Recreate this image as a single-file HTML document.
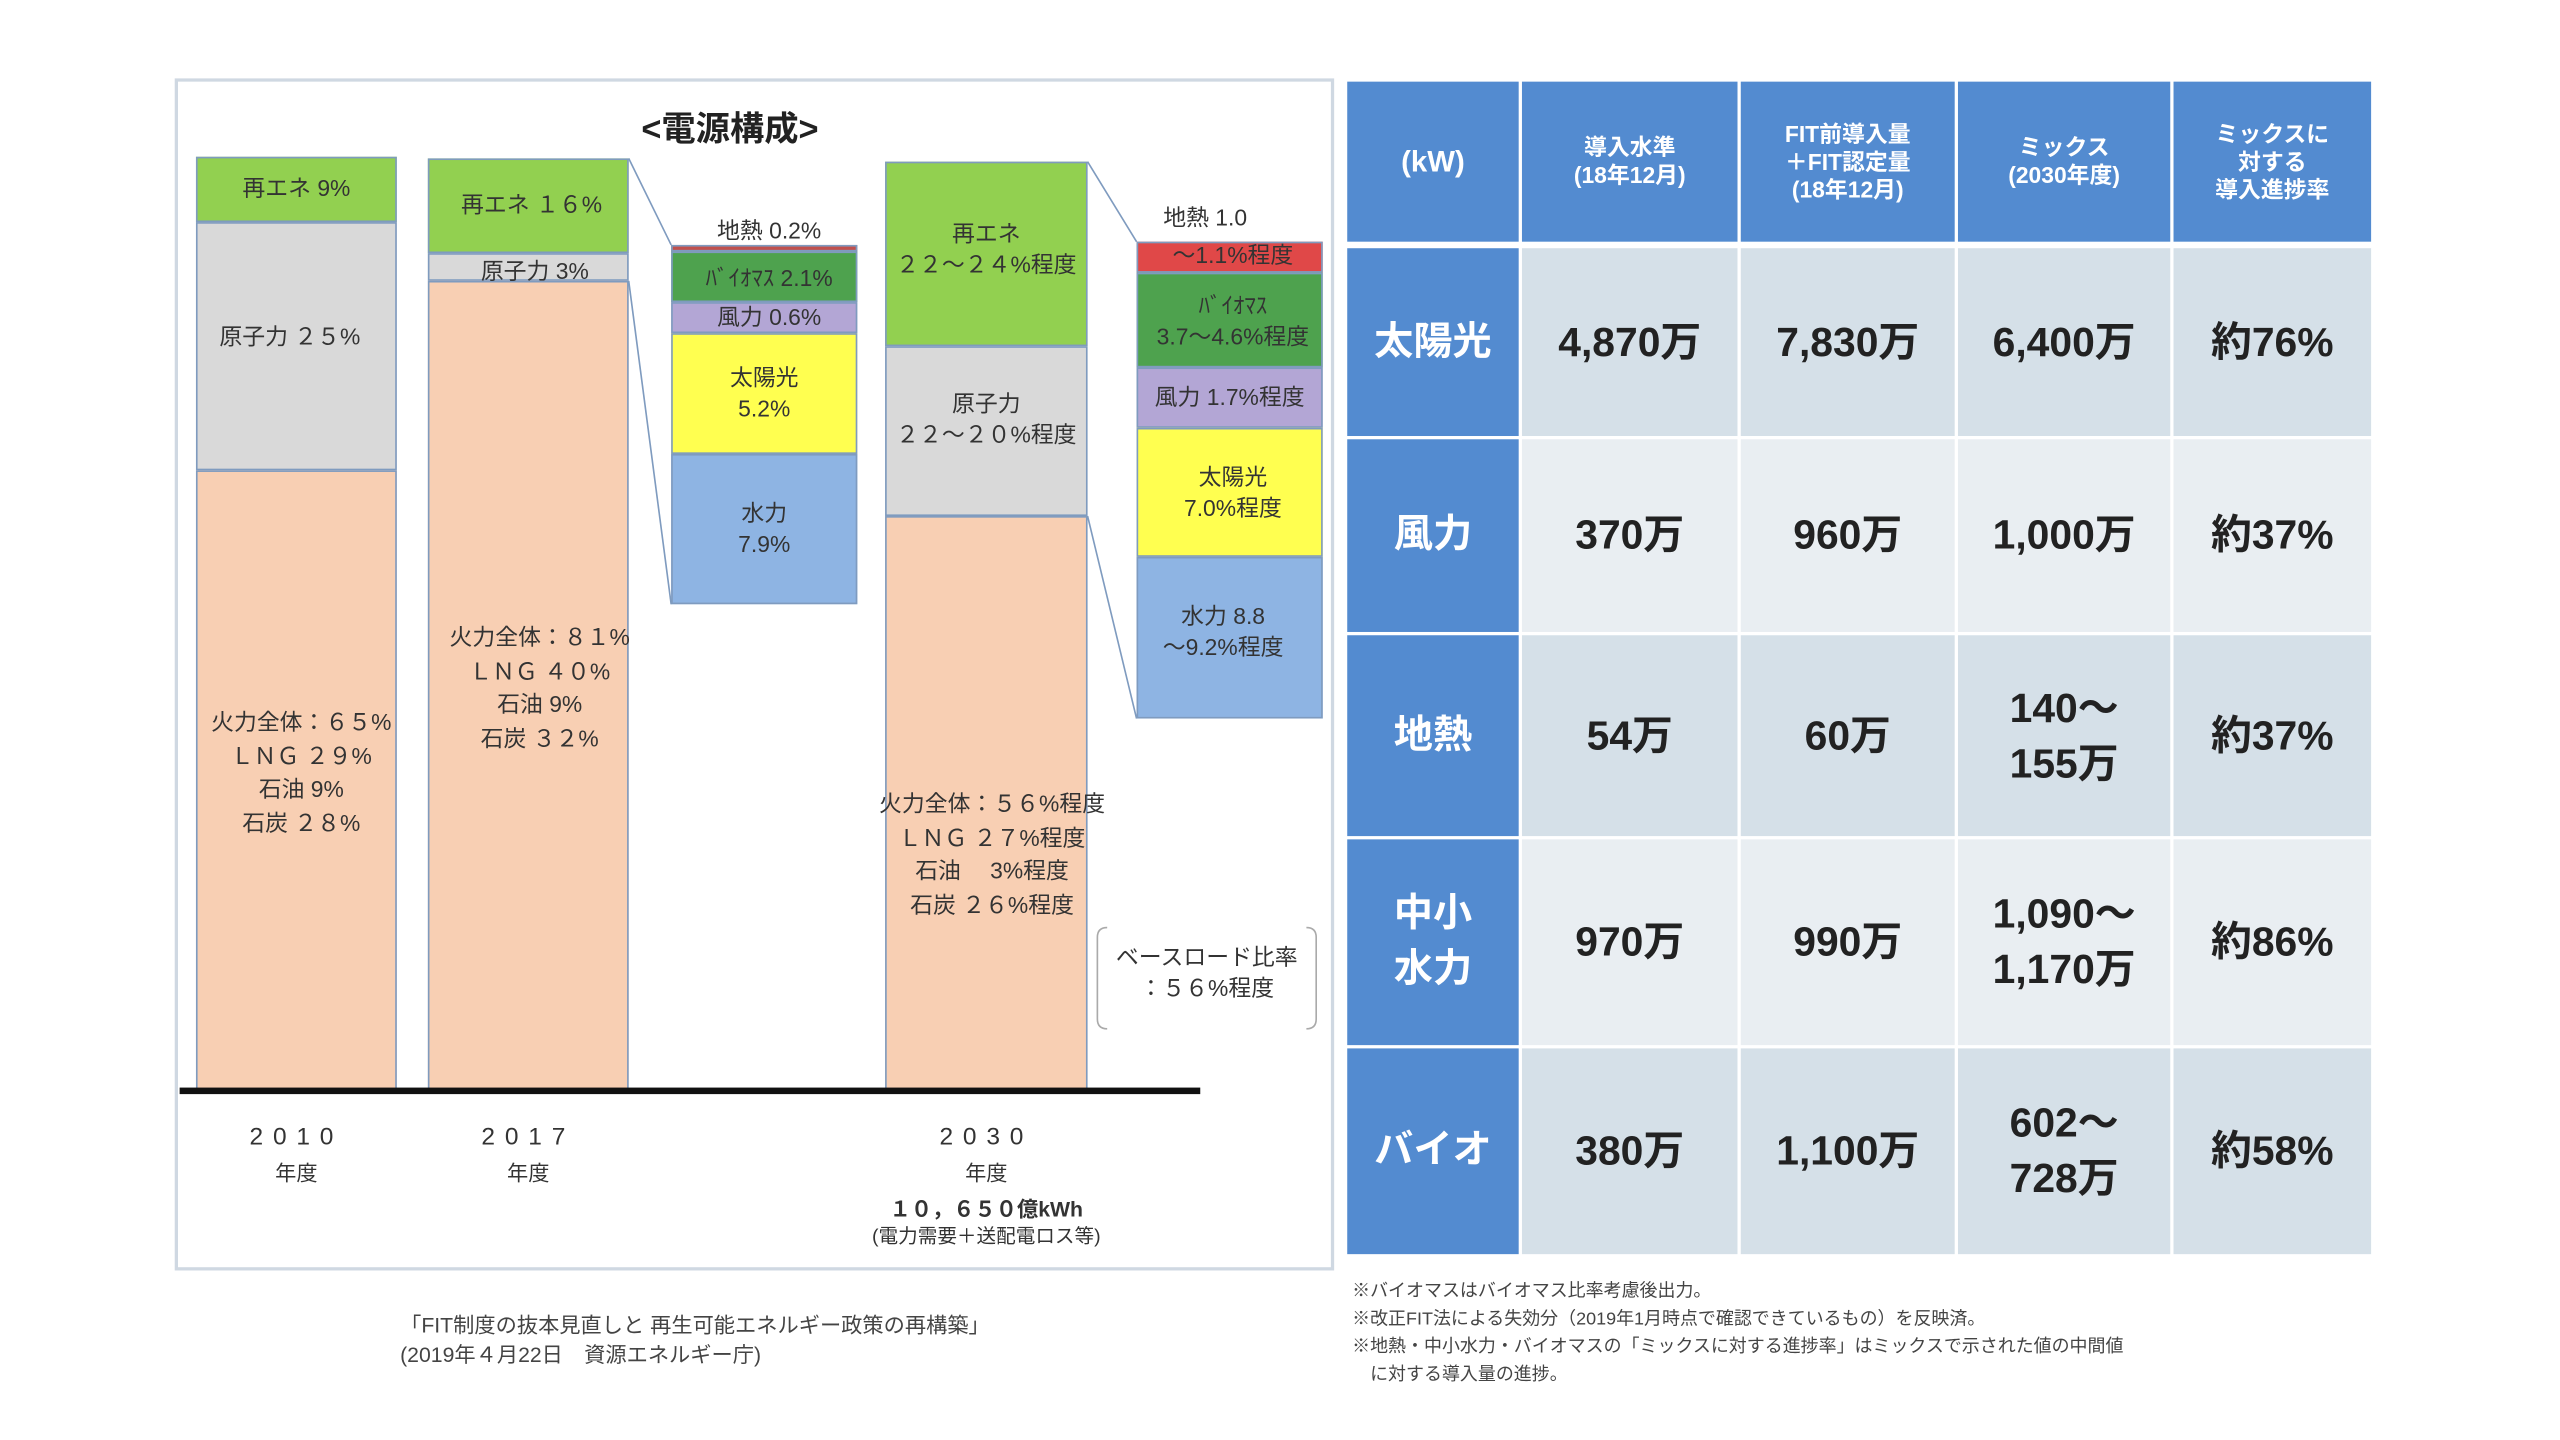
<!DOCTYPE html>
<html><head><meta charset="utf-8"><style>
html,body{margin:0;padding:0;background:#fff;overflow:hidden}
#w{position:absolute;left:0;top:0;width:1570px;height:882px;transform:scale(1.633,1.633);transform-origin:0 0;font-family:"Liberation Sans","Noto Sans CJK JP",sans-serif;color:#222}
.a{position:absolute}
.r{position:absolute;box-sizing:border-box;border:1px solid #7f9bbf}
.t{position:absolute;text-align:center;white-space:nowrap;font-size:14px;line-height:19px;color:#333}
.c{position:absolute;display:flex;align-items:center;justify-content:center;text-align:center;font-weight:bold;box-sizing:border-box}
.h{background:#538bd0;color:#fff}
.d1{background:#d5e0e8;color:#222;font-size:25px;line-height:34px}
.d2{background:#e9eef2;color:#222;font-size:25px;line-height:34px}
.hd{font-size:14px;line-height:17px}
.rl{font-size:24px;line-height:34px}
</style></head><body><div id="w">
<div class="a" style="left:107px;top:48px;width:710px;height:730px;border:2px solid #cfd8e2;box-sizing:border-box"></div>
<div class="t" style="left:347px;top:66px;width:200px;font-size:21px;font-weight:bold;line-height:28px;color:#222">&lt;電源構成&gt;</div>
<!-- 2010 -->
<div class="r" style="left:120px;top:96px;width:123px;height:40px;background:#92d050"></div>
<div class="r" style="left:120px;top:136px;width:123px;height:152px;background:#d9d9d9"></div>
<div class="r" style="left:120px;top:288px;width:123px;height:380px;background:#f8cfb3"></div>
<div class="t" style="left:120px;top:106px;width:123px">再エネ 9%</div>
<div class="t" style="left:116px;top:197px;width:123px">原子力 ２５%</div>
<div class="t" style="left:112px;top:432px;width:145px;line-height:20.5px">火力全体：６５%<br>ＬＮＧ ２９%<br>石油 9%<br>石炭 ２８%</div>
<!-- 2017 -->
<div class="r" style="left:262px;top:97px;width:123px;height:58px;background:#92d050"></div>
<div class="r" style="left:262px;top:155px;width:123px;height:17px;background:#d9d9d9"></div>
<div class="r" style="left:262px;top:172px;width:123px;height:496px;background:#f8cfb3"></div>
<div class="t" style="left:264px;top:116px;width:123px">再エネ １６%</div>
<div class="t" style="left:266px;top:158px;width:123px;line-height:16px">原子力 3%</div>
<div class="t" style="left:258px;top:380px;width:145px;line-height:20.5px">火力全体：８１%<br>ＬＮＧ ４０%<br>石油 9%<br>石炭 ３２%</div>
<!-- 2017 detail -->
<div class="r" style="left:411px;top:150px;width:114px;height:4px;background:#c0504d"></div>
<div class="r" style="left:411px;top:154px;width:114px;height:31px;background:#4ea24e"></div>
<div class="r" style="left:411px;top:185px;width:114px;height:19px;background:#b3a6d5"></div>
<div class="r" style="left:411px;top:204px;width:114px;height:74px;background:#ffff50"></div>
<div class="r" style="left:411px;top:278px;width:114px;height:92px;background:#8eb4e3"></div>
<div class="t" style="left:411px;top:132px;width:120px">地熱 0.2%</div>
<div class="t" style="left:411px;top:161px;width:120px">ﾊﾞｲｵﾏｽ 2.1%</div>
<div class="t" style="left:411px;top:185px;width:120px">風力 0.6%</div>
<div class="t" style="left:411px;top:222px;width:114px">太陽光<br>5.2%</div>
<div class="t" style="left:411px;top:305px;width:114px">水力<br>7.9%</div>
<!-- 2030 -->
<div class="r" style="left:542px;top:99px;width:124px;height:113px;background:#92d050"></div>
<div class="r" style="left:542px;top:212px;width:124px;height:104px;background:#d9d9d9"></div>
<div class="r" style="left:542px;top:316px;width:124px;height:352px;background:#f8cfb3"></div>
<div class="t" style="left:530px;top:134px;width:148px">再エネ<br>２２～２４%程度</div>
<div class="t" style="left:530px;top:238px;width:148px">原子力<br>２２～２０%程度</div>
<div class="t" style="left:520px;top:482px;width:175px;line-height:20.5px">火力全体：５６%程度<br>ＬＮＧ ２７%程度<br>石油 　3%程度<br>石炭 ２６%程度</div>
<!-- 2030 detail -->
<div class="r" style="left:696px;top:148px;width:114px;height:19px;background:#e04848"></div>
<div class="r" style="left:696px;top:167px;width:114px;height:58px;background:#4ea24e"></div>
<div class="r" style="left:696px;top:225px;width:114px;height:37px;background:#b3a6d5"></div>
<div class="r" style="left:696px;top:262px;width:114px;height:79px;background:#ffff50"></div>
<div class="r" style="left:696px;top:341px;width:114px;height:99px;background:#8eb4e3"></div>
<div class="t" style="left:688px;top:124px;width:100px">地熱 1.0</div>
<div class="t" style="left:696px;top:147px;width:118px">～1.1%程度</div>
<div class="t" style="left:690px;top:178px;width:130px">ﾊﾞｲｵﾏｽ<br>3.7～4.6%程度</div>
<div class="t" style="left:692px;top:234px;width:122px">風力 1.7%程度</div>
<div class="t" style="left:696px;top:283px;width:118px">太陽光<br>7.0%程度</div>
<div class="t" style="left:690px;top:368px;width:118px">水力 8.8<br>～9.2%程度</div>
<svg class="a" style="left:0;top:0" width="830" height="700"><g stroke="#7f9bbf" stroke-width="1" fill="none">
<line x1="385" y1="97" x2="411" y2="150"/><line x1="385" y1="172" x2="411" y2="370"/>
<line x1="666" y1="99" x2="696" y2="148"/><line x1="666" y1="316" x2="696" y2="440"/></g>
<path d="M678 568 q-6 0 -6 6 v50 q0 6 6 6 M800 568 q6 0 6 6 v50 q0 6 -6 6" stroke="#aaa" fill="none"/>
</svg>
<div class="t" style="left:672px;top:577px;width:134px">ベースロード比率<br>：５６%程度</div>
<div class="a" style="left:110px;top:666px;width:625px;height:4px;background:#111"></div>
<div class="t" style="left:120px;top:687px;width:123px;letter-spacing:6px;font-size:15px">2010</div>
<div class="t" style="left:120px;top:709px;width:123px;font-size:13px">年度</div>
<div class="t" style="left:262px;top:687px;width:123px;letter-spacing:6px;font-size:15px">2017</div>
<div class="t" style="left:262px;top:709px;width:123px;font-size:13px">年度</div>
<div class="t" style="left:542px;top:687px;width:124px;letter-spacing:6px;font-size:15px">2030</div>
<div class="t" style="left:542px;top:709px;width:124px;font-size:13px">年度</div>
<div class="t" style="left:504px;top:731px;width:200px;font-size:13px;font-weight:bold">１０，６５０億kWh</div>
<div class="t" style="left:504px;top:749px;width:200px;font-size:12px;line-height:16px">(電力需要＋送配電ロス等)</div>
<div class="a" style="left:245px;top:803px;font-size:13px;line-height:18px;color:#444;white-space:nowrap">「FIT制度の抜本見直しと 再生可能エネルギー政策の再構築」<br>(2019年４月22日　資源エネルギー庁)</div>
<!-- table -->
<div class="c h hd" style="left:825px;top:50px;width:105px;height:98px;font-size:18px">(kW)</div>
<div class="c h hd" style="left:932px;top:50px;width:132px;height:98px">導入水準<br>(18年12月)</div>
<div class="c h hd" style="left:1066px;top:50px;width:131px;height:98px">FIT前導入量<br>＋FIT認定量<br>(18年12月)</div>
<div class="c h hd" style="left:1199px;top:50px;width:130px;height:98px">ミックス<br>(2030年度)</div>
<div class="c h hd" style="left:1331px;top:50px;width:121px;height:98px">ミックスに<br>対する<br>導入進捗率</div>

<div class="c h rl" style="left:825px;top:152px;width:105px;height:115px">太陽光</div>
<div class="c d1" style="left:932px;top:152px;width:132px;height:115px">4,870万</div>
<div class="c d1" style="left:1066px;top:152px;width:131px;height:115px">7,830万</div>
<div class="c d1" style="left:1199px;top:152px;width:130px;height:115px">6,400万</div>
<div class="c d1" style="left:1331px;top:152px;width:121px;height:115px">約76%</div>

<div class="c h rl" style="left:825px;top:269px;width:105px;height:118px">風力</div>
<div class="c d2" style="left:932px;top:269px;width:132px;height:118px">370万</div>
<div class="c d2" style="left:1066px;top:269px;width:131px;height:118px">960万</div>
<div class="c d2" style="left:1199px;top:269px;width:130px;height:118px">1,000万</div>
<div class="c d2" style="left:1331px;top:269px;width:121px;height:118px">約37%</div>

<div class="c h rl" style="left:825px;top:389px;width:105px;height:123px">地熱</div>
<div class="c d1" style="left:932px;top:389px;width:132px;height:123px">54万</div>
<div class="c d1" style="left:1066px;top:389px;width:131px;height:123px">60万</div>
<div class="c d1" style="left:1199px;top:389px;width:130px;height:123px">140～<br>155万</div>
<div class="c d1" style="left:1331px;top:389px;width:121px;height:123px">約37%</div>

<div class="c h rl" style="left:825px;top:514px;width:105px;height:126px">中小<br>水力</div>
<div class="c d2" style="left:932px;top:514px;width:132px;height:126px">970万</div>
<div class="c d2" style="left:1066px;top:514px;width:131px;height:126px">990万</div>
<div class="c d2" style="left:1199px;top:514px;width:130px;height:126px">1,090～<br>1,170万</div>
<div class="c d2" style="left:1331px;top:514px;width:121px;height:126px">約86%</div>

<div class="c h rl" style="left:825px;top:642px;width:105px;height:126px">バイオ</div>
<div class="c d1" style="left:932px;top:642px;width:132px;height:126px">380万</div>
<div class="c d1" style="left:1066px;top:642px;width:131px;height:126px">1,100万</div>
<div class="c d1" style="left:1199px;top:642px;width:130px;height:126px">602～<br>728万</div>
<div class="c d1" style="left:1331px;top:642px;width:121px;height:126px">約58%</div>

<div class="a" style="left:828px;top:783px;font-size:11px;line-height:17px;color:#444;white-space:nowrap">※バイオマスはバイオマス比率考慮後出力。<br>※改正FIT法による失効分（2019年1月時点で確認できているもの）を反映済。<br>※地熱・中小水力・バイオマスの「ミックスに対する進捗率」はミックスで示された値の中間値<br>　に対する導入量の進捗。</div>
</div></body></html>
